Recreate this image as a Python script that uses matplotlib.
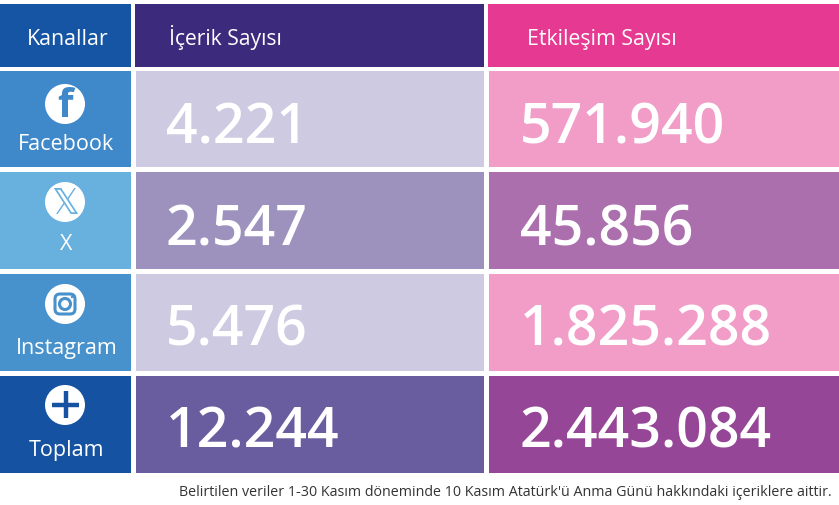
import matplotlib
matplotlib.use('Agg')
import matplotlib.pyplot as plt
from matplotlib.patches import Rectangle, Circle, FancyBboxPatch

plt.rcParams['font.family'] = ['Open Sans', 'DejaVu Sans']

headers = ['Kanallar', 'İçerik Sayısı', 'Etkileşim Sayısı']
channels = ['Facebook', 'X', 'Instagram', 'Toplam']
content_counts = ['4.221', '2.547', '5.476', '12.244']
engagement_counts = ['571.940', '45.856', '1.825.288', '2.443.084']
note = "Belirtilen veriler 1-30 Kasım döneminde 10 Kasım Atatürk'ü Anma Günü hakkındaki içeriklere aittir."

header_colours = ['#1555a4', '#3c2b7d', '#e63a92']
channel_colours = ['#3f88c9', '#68b0de', '#4791cd', '#1552a1']
content_colours = ['#cdcae1', '#9d92bd', '#cdcae1', '#6a5d9f']
engagement_colours = ['#f19dc8', '#ab6fad', '#f19dc8', '#964696']

# layout in pixels, y pointing down
col_edges = [(0, 131), (135, 484), (488, 839)]
body_edges = [(0, 131), (136, 484), (489, 839)]
row_tops = [72, 173, 275, 377]
row_bottoms = [168, 270, 372, 474]
number_base = [143, 245, 346, 448]
label_base = [150, 250, 354, 456]
icon_y = [105, 203, 305, 406]
icon_x = 65

fig = plt.figure(figsize=(8.39, 5.06), dpi=100)
ax = fig.add_axes([0, 0, 1, 1])
ax.set_xlim(0, 839)
ax.set_ylim(506, 0)
ax.axis('off')


def cell(x0, x1, y0, y1, colour):
    ax.add_patch(Rectangle((x0, y0), x1 - x0, y1 - y0, fc=colour, ec='none'))


# header row
for (x0, x1), colour in zip(col_edges, header_colours):
    cell(x0, x1, 5, 68, colour)
ax.text(68, 45, headers[0], color='white', fontsize=15.4, ha='center', va='baseline')
ax.text(169, 45, headers[1], color='white', fontsize=15.2, ha='left', va='baseline')
ax.text(527, 45, headers[2], color='white', fontsize=15.3, ha='left', va='baseline')

# body rows
for i in range(4):
    y0, y1 = row_tops[i], row_bottoms[i]
    cell(*body_edges[0], y0, y1, channel_colours[i])
    cell(*body_edges[1], y0, y1, content_colours[i])
    cell(*body_edges[2], y0, y1, engagement_colours[i])
    ax.text(66.5, label_base[i], channels[i], color='white', fontsize=15.5, ha='center', va='baseline')
    ax.text(166, number_base[i], content_counts[i], color='white', fontsize=40, weight=600,
            ha='left', va='baseline')
    ax.text(520, number_base[i], engagement_counts[i], color='white', fontsize=40, weight=600,
            ha='left', va='baseline')
    ax.add_patch(Circle((icon_x, icon_y[i]), 20, fc='white', ec='none', zorder=3))

# icons
ax.text(icon_x, 106, 'f', color=channel_colours[0], fontsize=29, weight='bold',
        ha='center', va='center', zorder=4)
ax.text(icon_x, 204, '𝕏', color=channel_colours[1], fontsize=25, family=['DejaVu Sans'],
        ha='center', va='center', zorder=4)
ig = channel_colours[2]
ax.add_patch(FancyBboxPatch((icon_x - 8, 305 - 8), 16, 16, boxstyle='round,pad=2,rounding_size=5',
                            fc='none', ec=ig, lw=2.2, zorder=4))
ax.add_patch(Circle((icon_x, 305), 5.5, fc='none', ec=ig, lw=2.2, zorder=4))
ax.add_patch(Circle((icon_x + 7, 298), 1.2, fc=ig, ec='none', zorder=4))
plus = channel_colours[3]
ax.plot([icon_x - 13, icon_x + 14], [405.5, 405.5], color=plus, lw=3.2, zorder=4, solid_capstyle='butt')
ax.plot([icon_x + 0.5, icon_x + 0.5], [392, 419], color=plus, lw=3.2, zorder=4, solid_capstyle='butt')

ax.text(832, 496, note, color='#333333', fontsize=10.25, ha='right', va='baseline')

fig.savefig('out.png', dpi=100, facecolor='white')
